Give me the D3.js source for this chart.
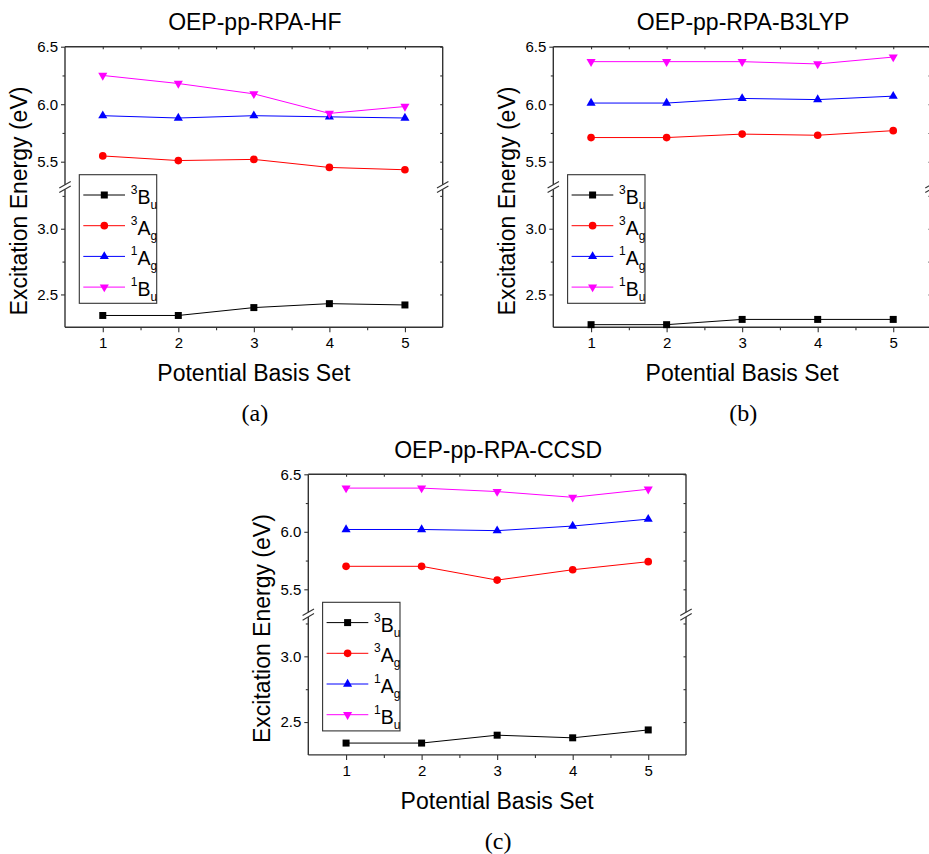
<!DOCTYPE html>
<html>
<head>
<meta charset="utf-8">
<script src="https://cdn.jsdelivr.net/npm/d3@7"></script>
<style>
	body { margin: 0; background: #fff; }
	svg { display: block; }
</style>
</head>
<body>
<div id="chart"></div>
<script>
var basisSets = [1, 2, 3, 4, 5]
var stateSup = ['3', '3', '1', '1']
var stateMain = ['B', 'A', 'A', 'B']
var stateSub = ['u', 'g', 'g', 'u']
var stateColors = ['#000000', '#ff0000', '#0000ff', '#ff00ff']
var stateSymbols = ['square', 'circle', 'up', 'down']
var yTicksHi = [5.5, 6.0, 6.5]
var yTicksLo = [2.5, 3.0]
var yMinorHi = [5.75, 6.25]
var yMinorLo = [2.75, 3.25]
var xMinor = [1.5, 2.5, 3.5, 4.5]

// OEP-pp-RPA-HF
var hf3Bu = [2.34, 2.34, 2.40, 2.43, 2.42]
var hf3Ag = [5.55, 5.51, 5.52, 5.45, 5.43]
var hf1Ag = [5.90, 5.88, 5.90, 5.89, 5.88]
var hf1Bu = [6.25, 6.18, 6.09, 5.92, 5.98]

// OEP-pp-RPA-B3LYP
var b3lyp3Bu = [2.27, 2.27, 2.31, 2.31, 2.31]
var b3lyp3Ag = [5.71, 5.71, 5.74, 5.73, 5.77]
var b3lyp1Ag = [6.01, 6.01, 6.05, 6.04, 6.07]
var b3lyp1Bu = [6.37, 6.37, 6.37, 6.35, 6.41]

// OEP-pp-RPA-CCSD
var ccsd3Bu = [2.34, 2.34, 2.40, 2.38, 2.44]
var ccsd3Ag = [5.70, 5.70, 5.58, 5.67, 5.74]
var ccsd1Ag = [6.02, 6.02, 6.01, 6.05, 6.11]
var ccsd1Bu = [6.38, 6.38, 6.35, 6.30, 6.37]

var panelTitles = ['OEP-pp-RPA-HF', 'OEP-pp-RPA-B3LYP', 'OEP-pp-RPA-CCSD']
var panelTags = ['(a)', '(b)', '(c)']

var width = 929,
	height = 854,
	plotW = 377.7,
	plotH = 280.6,
	segH = 138,
	gapTop = segH,
	gapBot = plotH - segH,
	sans = '"Liberation Sans", Arial, sans-serif',
	serif = '"Liberation Serif", "Times New Roman", serif',
	axisColor = '#333'

var panels = [
	{left: 65, top: 46.7, series: [hf3Bu, hf3Ag, hf1Ag, hf1Bu]},
	{left: 553.3, top: 46.7, series: [b3lyp3Bu, b3lyp3Ag, b3lyp1Ag, b3lyp1Bu]},
	{left: 308.3, top: 474.3, series: [ccsd3Bu, ccsd3Ag, ccsd1Ag, ccsd1Bu]}
]

var svg = d3.select('#chart').append('svg')
	.attr('width', width)
	.attr('height', height)
	.attr('viewBox', '0 0 ' + width + ' ' + height)

var x = d3.scaleLinear().domain([0.5, 5.5]).range([0, plotW])
var yHi = d3.scaleLinear().domain([5.3, 6.5]).range([gapTop, 0])
var yLo = d3.scaleLinear().domain([2.25, 3.3]).range([plotH, gapBot])
function y(v) { return v >= 4 ? yHi(v) : yLo(v) }

var symbolTypes = {
	square: d3.symbolSquare,
	circle: d3.symbolCircle,
	up: d3.symbolTriangle,
	down: d3.symbolTriangle
}
var symbolSizes = {square: 49, circle: 46, up: 36, down: 36}

function marker(sel, kind, color) {
	sel.append('path')
		.attr('d', d3.symbol().type(symbolTypes[kind]).size(symbolSizes[kind])())
		.attr('transform', kind === 'down' ? 'rotate(180)' : null)
		.attr('fill', color)
		.attr('stroke', 'none')
}

function breakMark(g, bx) {
	[gapTop, gapBot].forEach(function(by) {
		g.append('line')
			.attr('x1', bx - 5.7).attr('y1', by + 3.3)
			.attr('x2', bx + 5.7).attr('y2', by - 3.3)
			.attr('stroke', axisColor)
			.attr('stroke-width', 1.1)
	})
}

panels.forEach(function(p, pi) {
	var g = svg.append('g')
		.attr('transform', 'translate(' + p.left + ',' + p.top + ')')

	// frame with the axis break
	var frame = g.append('g')
		.attr('stroke', axisColor)
		.attr('stroke-width', 1.4)
		.attr('fill', 'none')
	frame.append('line').attr('x1', 0).attr('x2', plotW).attr('y1', 0).attr('y2', 0)
	frame.append('line').attr('x1', 0).attr('x2', plotW).attr('y1', plotH).attr('y2', plotH)
	;[0, plotW].forEach(function(fx) {
		frame.append('line').attr('x1', fx).attr('x2', fx).attr('y1', 0).attr('y2', gapTop)
		frame.append('line').attr('x1', fx).attr('x2', fx).attr('y1', gapBot).attr('y2', plotH)
	})
	breakMark(g, 0)
	breakMark(g, plotW)

	// left axis, two segments
	;[[yHi, yTicksHi, yMinorHi], [yLo, yTicksLo, yMinorLo]].forEach(function(seg) {
		var ax = g.append('g')
			.call(d3.axisLeft(seg[0]).tickValues(seg[1]).tickFormat(d3.format('.1f')).tickSize(4).tickPadding(3))
		ax.select('.domain').remove()
		ax.selectAll('line').attr('stroke', axisColor).attr('stroke-width', 1.1)
		ax.selectAll('text').attr('font-family', sans).attr('font-size', 15).attr('fill', '#000')

		var axMinor = g.append('g')
			.call(d3.axisLeft(seg[0]).tickValues(seg[2]).tickFormat('').tickSize(2.5))
		axMinor.select('.domain').remove()
		axMinor.selectAll('line').attr('stroke', axisColor).attr('stroke-width', 1.1)

		var axRight = g.append('g')
			.attr('transform', 'translate(' + plotW + ',0)')
			.call(d3.axisRight(seg[0]).tickValues(seg[1].concat(seg[2])).tickFormat('').tickSize(-2.5))
		axRight.select('.domain').remove()
		axRight.selectAll('line').attr('stroke', axisColor).attr('stroke-width', 1.1)
	})

	// bottom axis
	var bx = g.append('g')
		.attr('transform', 'translate(0,' + plotH + ')')
		.call(d3.axisBottom(x).tickValues(basisSets).tickFormat(d3.format('d')).tickSize(5).tickPadding(5))
	bx.select('.domain').remove()
	bx.selectAll('line').attr('stroke', axisColor).attr('stroke-width', 1.1)
	bx.selectAll('text').attr('font-family', sans).attr('font-size', 15).attr('fill', '#000')

	var bxMinor = g.append('g')
		.attr('transform', 'translate(0,' + plotH + ')')
		.call(d3.axisBottom(x).tickValues(xMinor).tickFormat('').tickSize(3))
	bxMinor.select('.domain').remove()
	bxMinor.selectAll('line').attr('stroke', axisColor).attr('stroke-width', 1.1)

	var tx = g.append('g')
		.call(d3.axisTop(x).tickValues(basisSets.concat(xMinor)).tickFormat('').tickSize(-2.5))
	tx.select('.domain').remove()
	tx.selectAll('line').attr('stroke', axisColor).attr('stroke-width', 1.1)

	// series
	var line = d3.line()
		.x(function(d, i) { return x(basisSets[i]) })
		.y(function(d) { return y(d) })

	p.series.forEach(function(vals, si) {
		g.append('path')
			.datum(vals)
			.attr('d', line)
			.attr('fill', 'none')
			.attr('stroke', stateColors[si])
			.attr('stroke-width', 1)

		g.selectAll('.m' + si)
			.data(vals)
			.enter().append('g')
			.attr('class', 'm' + si)
			.attr('transform', function(d, i) { return 'translate(' + x(basisSets[i]) + ',' + y(d) + ')' })
			.each(function() { marker(d3.select(this), stateSymbols[si], stateColors[si]) })
	})

	// legend
	var lg = g.append('g')
		.attr('transform', 'translate(14.3,128)')
	lg.append('rect')
		.attr('width', 77.4)
		.attr('height', 128.6)
		.attr('fill', '#fff')
		.attr('stroke', axisColor)
		.attr('stroke-width', 1.1)
	stateMain.forEach(function(m, si) {
		var row = lg.append('g')
			.attr('transform', 'translate(0,' + (20.3 + si * 30.7) + ')')
		row.append('line')
			.attr('x1', 4).attr('x2', 45.7)
			.attr('stroke', stateColors[si])
			.attr('stroke-width', 1)
		var mk = row.append('g').attr('transform', 'translate(25,0)')
		marker(mk, stateSymbols[si], stateColors[si])
		var t = row.append('text')
			.attr('x', 51.4)
			.attr('y', -1)
			.attr('font-family', sans)
			.attr('fill', '#000')
		t.append('tspan').attr('font-size', 12).attr('dy', 0).text(stateSup[si])
		t.append('tspan').attr('font-size', 19.5).attr('dy', 10).text(m)
		t.append('tspan').attr('font-size', 12).attr('dy', 5).text(stateSub[si])
	})

	// titles
	g.append('text')
		.attr('x', plotW / 2 + 1)
		.attr('y', -16.7)
		.attr('text-anchor', 'middle')
		.attr('font-family', sans)
		.attr('font-size', 23)
		.attr('fill', '#000')
		.text(panelTitles[pi])

	g.append('text')
		.attr('x', plotW / 2)
		.attr('y', plotH + 53.7)
		.attr('text-anchor', 'middle')
		.attr('font-family', sans)
		.attr('font-size', 23)
		.attr('fill', '#000')
		.text('Potential Basis Set')

	g.append('text')
		.attr('transform', 'translate(-38.5,' + 154.3 + ') rotate(-90)')
		.attr('text-anchor', 'middle')
		.attr('font-family', sans)
		.attr('font-size', 23)
		.attr('fill', '#000')
		.text('Excitation Energy (eV)')

	g.append('text')
		.attr('x', plotW / 2 + 1)
		.attr('y', plotH + 94.2)
		.attr('text-anchor', 'middle')
		.attr('font-family', serif)
		.attr('font-size', 24)
		.attr('fill', '#000')
		.text(panelTags[pi])
})
</script>
</body>
</html>
